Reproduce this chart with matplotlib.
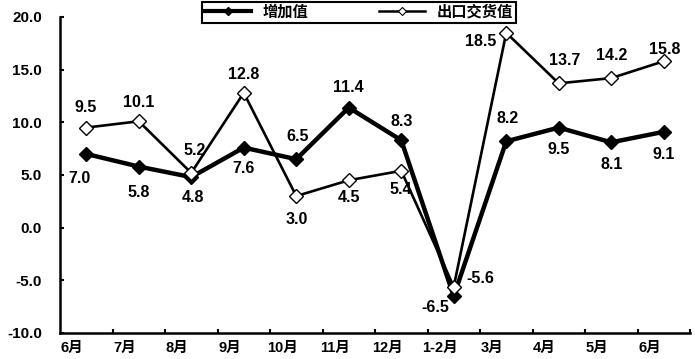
import matplotlib
matplotlib.use("Agg")
import matplotlib.pyplot as plt
from matplotlib.lines import Line2D
import numpy as np

plt.rcParams['font.family'] = ['Liberation Sans', 'Noto Sans CJK SC', 'DejaVu Sans']
plt.rcParams['font.weight'] = 'bold'

months = ["6月", "7月", "8月", "9月", "10月", "11月", "12月", "1-2月", "3月", "4月", "5月", "6月"]
added_value = [7.0, 5.8, 4.8, 7.6, 6.5, 11.4, 8.3, -6.5, 8.2, 9.5, 8.1, 9.1]
export_value = [9.5, 10.1, 5.2, 12.8, 3.0, 4.5, 5.4, -5.6, 18.5, 13.7, 14.2, 15.8]

# label offsets in pixels (dx, dy-up)
added_offsets = [(-7, -25), (0, -26), (2, -20), (0, -21), (1, 23), (0, 20),
                 (0, 19), (-18, -11), (1, 23), (0, -22), (0, -22), (0, -23)]
export_offsets = [(-1, 20), (0, 19), (3, 22), (0, 18), (1, -23), (0, -17),
                  (0, -19), (27, 8), (-26, -9), (6, 23), (0, 23), (1, 12)]

fig = plt.figure(figsize=(6.95, 3.59), dpi=100)
ax = fig.add_axes([60 / 695, 1 - 333 / 359, 630 / 695, 316 / 359])

x = np.arange(len(months))
ax.plot(x, added_value, color='black', lw=3.2, marker='D', markersize=7,
        markerfacecolor='black', markeredgecolor='black', zorder=3)
ax.plot(x, export_value, color='black', lw=1.9, marker='D', markersize=7.5,
        markerfacecolor='white', markeredgecolor='black', markeredgewidth=1, zorder=4)

px = 0.72
for xi, v, (dx, dy) in zip(x, added_value, added_offsets):
    ax.annotate(f"{v:.1f}", (xi, v), xytext=(dx * px, dy * px), textcoords='offset points',
                ha='center', va='center', fontsize=11.5, fontweight='bold')
for xi, v, (dx, dy) in zip(x, export_value, export_offsets):
    ax.annotate(f"{v:.1f}", (xi, v), xytext=(dx * px, dy * px), textcoords='offset points',
                ha='center', va='center', fontsize=11.5, fontweight='bold')

ax.set_xlim(-0.5, 11.5)
ax.set_ylim(-10, 20)
ax.set_yticks(np.arange(-10, 21, 5))
ax.set_yticklabels([f"{t:.1f}" for t in np.arange(-10, 21, 5)])
ax.set_xticks(x - 0.27)
ax.set_xticklabels(months)
ax.set_xticks(x + 0.5, minor=True)
ax.tick_params(axis='x', which='major', length=0, pad=6, labelsize=10.5)
ax.tick_params(axis='x', which='minor', direction='in', length=3, width=1.5)
ax.tick_params(axis='y', direction='in', length=3, width=1.5, pad=13, labelsize=11)
for lab in ax.get_xticklabels() + ax.get_yticklabels():
    lab.set_fontweight('bold')

for s in ['top', 'right']:
    ax.spines[s].set_visible(False)
for s in ['left', 'bottom']:
    ax.spines[s].set_linewidth(1.8)

handles = [
    Line2D([], [], color='black', lw=3, marker='D', markersize=4, markerfacecolor='black'),
    Line2D([], [], color='black', lw=1.8, marker='D', markersize=4.5,
           markerfacecolor='white', markeredgewidth=0.8),
]
leg = fig.legend(handles, ["增加值", "出口交货值"], loc='upper center',
                 bbox_to_anchor=(359 / 695, 1 - 2 / 359), ncol=2, frameon=True,
                 fancybox=False, edgecolor='black', handlelength=3, columnspacing=4.6,
                 borderpad=0.2, borderaxespad=0, prop={'weight': 'bold', 'size': 11})
leg.get_frame().set_linewidth(1.5)
leg.get_frame().set_facecolor('white')
leg.get_frame().set_alpha(1)

fig.savefig("out.png", dpi=100)
